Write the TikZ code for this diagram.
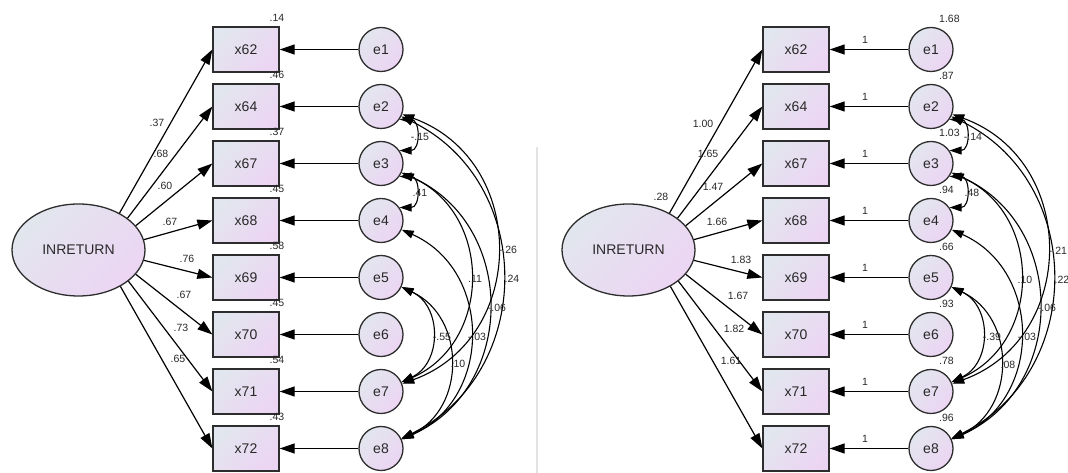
\documentclass[tikz,border=0pt]{standalone}
\usepackage{fontspec}
\setmainfont{Liberation Sans}
\usetikzlibrary{shapes.geometric,arrows.meta}
\definecolor{fillA}{RGB}{226,230,238}
\definecolor{fillB}{RGB}{236,213,243}
\definecolor{edgec}{RGB}{45,45,45}
\definecolor{txt}{RGB}{40,40,40}
\begin{document}
\begin{tikzpicture}[x=1pt,y=1pt,
  shaded/.style={draw=edgec, line width=1.3pt, inner sep=0pt, left color=fillA, right color=fillB, shading angle=45, text=txt, font=\fontsize{14}{16}\selectfont},
  obs/.style={shaded, rectangle, minimum width=66pt, minimum height=45pt},
  err/.style={shaded, circle, minimum size=44pt},
  lat/.style={shaded, ellipse, minimum width=133pt, minimum height=92pt},
  arr/.style={draw=black, line width=1.2pt, -{Triangle[length=15pt,width=10pt]}},
  cov/.style={draw=black, line width=1.1pt, {Triangle[length=12pt,width=8pt]}-{Triangle[length=12pt,width=8pt]}},
  lab/.style={font=\fontsize{10.5}{12}\selectfont, text=txt, inner sep=0pt}
]
\useasboundingbox (0,0) rectangle (1068,473);
\draw[gray!22, line width=1.5pt] (537,0) -- (537,326);

\foreach \side/\dx in {L/0,R/550} {
  \node[lat] (\side F) at (78.5+\dx,223) {INRETURN};
  \foreach \i/\n in {1/62,2/64,3/67,4/68,5/69,6/70,7/71,8/72} {
    \node[obs] (\side x\i) at (246+\dx,480.5-57*\i) {x\n};
    \node[err] (\side e\i) at (381+\dx,480.5-57*\i) {e\i};
    \draw[arr] (\side e\i) -- (\side x\i);
  }
  \foreach \i/\a in {1/42,2/33,3/23,4/9,5/-9,6/-23,7/-32,8/-41}
    \draw[arr] (\side F.\a) -- (\side x\i.west);
  % covariances
  \draw[cov] (\side e2.-26) .. controls +(-26:149.6) and +(26:149.6) .. (\side e8.26);
  \draw[cov] (\side e2.-20) .. controls +(-20:134.2) and +(20:134.2) .. (\side e7.20);
  \draw[cov] (\side e3.-24) .. controls +(-24:126.6) and +(24:126.6) .. (\side e8.24);
  \draw[cov] (\side e3.-24) .. controls +(-24:99.6) and +(24:99.6) .. (\side e7.24);
  \draw[cov] (\side e4.-24) .. controls +(-24:99.6) and +(24:99.6) .. (\side e8.24);
  \draw[cov] (\side e5.-25) .. controls +(-25:71.4) and +(25:71.4) .. (\side e8.25);
  \draw[cov] (\side e5.-25) .. controls +(-25:44.7) and +(25:44.7) .. (\side e7.25);
  \draw[cov] (\side e2.-35) .. controls +(0:21) and +(0:21) .. (\side e3.35);
  \draw[cov] (\side e3.-35) .. controls +(0:21) and +(0:21) .. (\side e4.35);
}

% left loadings
\node[lab] at (157,350) {.37};
\node[lab] at (161,319) {.68};
\node[lab] at (165,287) {.60};
\node[lab] at (170,251) {.67};
\node[lab] at (187,214) {.76};
\node[lab] at (184,178) {.67};
\node[lab] at (181,145) {.73};
\node[lab] at (178,114) {.65};
% left R2
\foreach \i/\v in {1/.14,2/.46,3/.37,4/.45,5/.58,6/.45,7/.54,8/.43}
  \node[lab] at (277,512.5-57*\i) {\v};
% left covariances
\node[lab] at (420,336) {-.15};
\node[lab] at (420,280) {.41};
\node[lab] at (508,223) {-.26};
\node[lab] at (512,194) {.24};
\node[lab] at (475,194) {.11};
\node[lab] at (497,165) {-.06};
\node[lab] at (442,136) {-.55};
\node[lab] at (477,136) {-.03};
\node[lab] at (458,109) {.10};

% right
\node[lab] at (661,276) {.28};
\node[lab] at (703,349) {1.00};
\node[lab] at (708,319) {1.65};
\node[lab] at (713,286) {1.47};
\node[lab] at (717,251) {1.66};
\node[lab] at (741,213) {1.83};
\node[lab] at (738,177) {1.67};
\node[lab] at (734,144) {1.82};
\node[lab] at (731,112) {1.61};
\foreach \i in {1,...,8}
  \node[lab] at (865,490-57*\i) {1};
\foreach \i/\v in {1/1.68,2/.87,3/1.03,4/.94,5/.66,6/.93,7/.78,8/.96}
  \node[lab, anchor=west] at (939,511.5-57*\i) {\v};
\node[lab] at (973,336) {-.14};
\node[lab] at (972,280) {.48};
\node[lab] at (1058,222) {-.21};
\node[lab] at (1062,193) {.22};
\node[lab] at (1025,193) {.10};
\node[lab] at (1047,165) {-.06};
\node[lab] at (992,136) {-.39};
\node[lab] at (1027,136) {-.03};
\node[lab] at (1008,108) {.08};
\end{tikzpicture}
\end{document}
